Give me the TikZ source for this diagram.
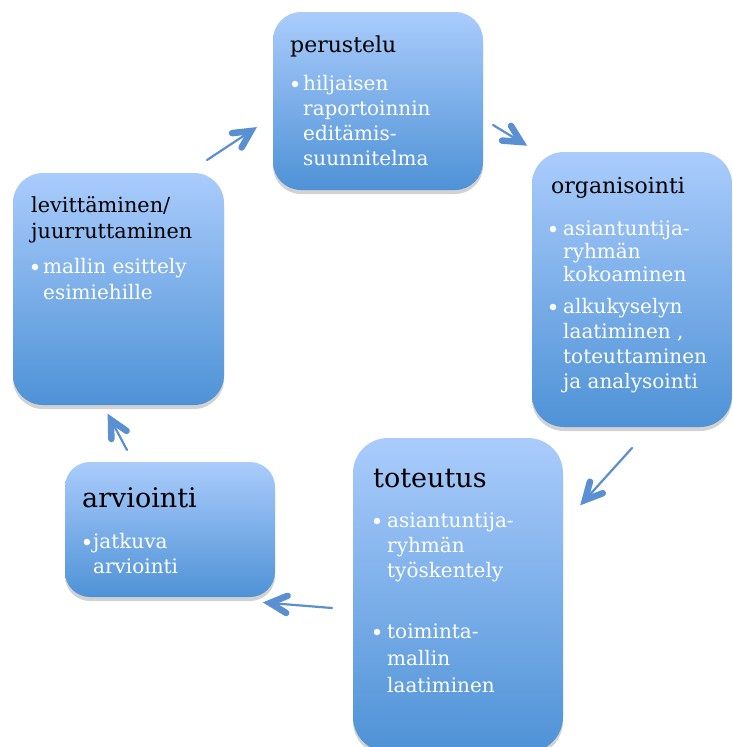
\documentclass[tikz,border=0pt]{standalone}
\usepackage{fontspec}
\setmainfont{DejaVu Serif}
\usetikzlibrary{calc,shadows}
\definecolor{boxtop}{RGB}{170,204,252}
\definecolor{boxbot}{RGB}{78,146,214}
\definecolor{arrc}{RGB}{90,143,210}
\begin{document}
\begin{tikzpicture}[x=1pt,y=-1pt,
  box/.style={draw=none, top color=boxtop, bottom color=boxbot, anchor=north west,
    inner sep=0pt, outer sep=0pt,
    drop shadow={shadow xshift=0pt, shadow yshift=-4pt, opacity=0.25, fill=black!70}},
  ttl/.style={anchor=base west, inner sep=0pt, text=black, font=\fontsize{22}{27}\selectfont},
  bigttl/.style={anchor=base west, inner sep=0pt, text=black, font=\fontsize{27}{32}\selectfont},
  bod/.style={anchor=base west, inner sep=0pt, text=white, font=\fontsize{20}{25}\selectfont},
  dot/.style={circle, fill=white, inner sep=0pt, minimum size=6.5pt},
  shaft/.style={draw=arrc, line width=2.2pt, line cap=round},
  head/.style={draw=arrc, line width=6.5pt, line cap=round, line join=miter}
]
\clip (0,0) rectangle (733,747);
\fill[white] (0,0) rectangle (733,747);

% boxes
\node[box, rounded corners=28pt, minimum width=210pt, minimum height=178pt] (per) at (273,12) {};
\node[box, rounded corners=32pt, minimum width=200pt, minimum height=275pt] (org) at (532,152) {};
\node[box, rounded corners=30pt, minimum width=211pt, minimum height=232pt] (lev) at (13,173) {};
\node[box, rounded corners=25pt, minimum width=210pt, minimum height=135pt] (arv) at (65,462) {};
\node[box, rounded corners=35pt, minimum width=210pt, minimum height=314pt] (tot) at (353,438) {};

% perustelu
\node[ttl] (pert) at (290,52) {perustelu};
\node[dot] (perb1) at (295,84) {};
\foreach \t [count=\i] in {hiljaisen, raportoinnin, editämis-, suunnitelma}
  \node[bod] (perl\i) at (303,{90+25*(\i-1)}) {\t};

% organisointi
\node[ttl] (orgt) at (551,193) {organisointi};
\node[dot] (orgb1) at (553,229) {};
\foreach \t [count=\i] in {asiantuntija-, ryhmän, kokoaminen}
  \node[bod] (orga\i) at (563,{235+23*(\i-1)}) {\t};
\node[dot] (orgb2) at (553,307) {};
\foreach \t [count=\i] in {alkukyselyn, {laatiminen ,}, toteuttaminen, ja analysointi}
  \node[bod] (orgc\i) at (563,{313+25*(\i-1)}) {\t};

% levittaminen
\node[ttl, font=\fontsize{20.8}{26}\selectfont] (levt1) at (31,212) {levittäminen/};
\node[ttl, font=\fontsize{20.8}{26}\selectfont] (levt2) at (31,238) {juurruttaminen};
\node[dot] (levb1) at (35,267) {};
\node[bod] (levl1) at (43,273) {mallin esittely};
\node[bod] (levl2) at (43,299) {esimiehille};

% arviointi
\node[bigttl] (arvt) at (82,507) {arviointi};
\node[dot] (arvb1) at (87,542) {};
\node[bod] (arvl1) at (93,548) {jatkuva};
\node[bod] (arvl2) at (93,573) {arviointi};

% toteutus
\node[bigttl] (tott) at (373,487) {toteutus};
\node[dot] (totb1) at (377,521) {};
\foreach \t [count=\i] in {asiantuntija-, ryhmän, työskentely}
  \node[bod] (tota\i) at (387,{527+25*(\i-1)}) {\t};
\node[dot] (totb2) at (377,632) {};
\foreach \t [count=\i] in {toiminta-, mallin, laatiminen}
  \node[bod] (totc\i) at (387,{638+27*(\i-1)}) {\t};

% arrows
\coordinate (a1s) at (207,160); \coordinate (a1e) at (251,131);
\coordinate (a2s) at (493,125); \coordinate (a2e) at (521,142);
\coordinate (a3s) at (632,448); \coordinate (a3e) at (585,500);
\coordinate (a4s) at (332,608); \coordinate (a4e) at (270,603);
\coordinate (a5s) at (127,450); \coordinate (a5e) at (111,420);
\foreach \n in {1,...,5}{
  \draw[shaft] (a\n s) -- (a\n e);
  \draw[head] ($(a\n e)!19pt!27:(a\n s)$) -- (a\n e) -- ($(a\n e)!19pt!-27:(a\n s)$);
}
\end{tikzpicture}
\end{document}
